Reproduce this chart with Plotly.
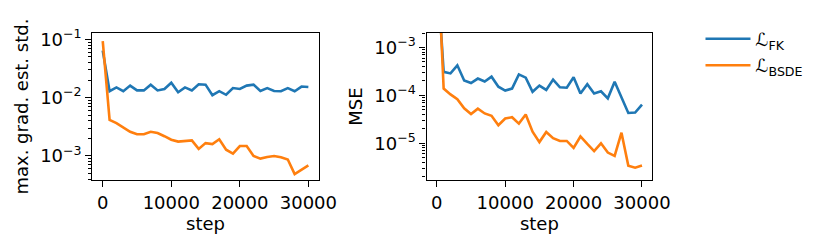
import plotly.graph_objects as go

steps = list(range(0, 31000, 1000))

grad_std_fk = [0.064, 0.0129, 0.015, 0.0129, 0.0161, 0.0133, 0.0133, 0.0167, 0.0133, 0.0141,
               0.018, 0.0124, 0.015, 0.0133, 0.017, 0.0167, 0.011, 0.0129, 0.0112, 0.0146,
               0.0141, 0.0161, 0.0167, 0.013, 0.0146, 0.013, 0.0129, 0.0146, 0.0129, 0.0155, 0.0152]
grad_std_bsde = [0.093, 0.00414, 0.00366, 0.0031, 0.0026, 0.00235, 0.00235, 0.0026, 0.00247, 0.00218,
                 0.0019, 0.00176, 0.0018, 0.00185, 0.00132, 0.00166, 0.0016, 0.00193, 0.00128, 0.0011,
                 0.00148, 0.00148, 0.001, 0.0009, 0.00096, 0.001, 0.00095, 0.00087, 0.00049, 0.00058, 0.00069]

mse_fk = [0.05, 3.1e-4, 2.88e-4, 4.25e-4, 2.05e-4, 1.81e-4, 2.25e-4, 1.95e-4, 2.46e-4, 1.52e-4,
          1.26e-4, 1.39e-4, 2.75e-4, 2.35e-4, 1.19e-4, 1.6e-4, 1.3e-4, 2.14e-4, 1.48e-4, 1.45e-4,
          2.4e-4, 1.1e-4, 1.72e-4, 1.1e-4, 1.22e-4, 8.7e-5, 1.93e-4, 9.0e-5, 4.3e-5, 4.4e-5, 6.4e-5]
mse_bsde = [0.2, 1.39e-4, 1.05e-4, 8.3e-5, 5.4e-5, 4.1e-5, 5.3e-5, 4.2e-5, 3.75e-5, 2.39e-5,
            3.3e-5, 3.5e-5, 2.58e-5, 4.0e-5, 1.75e-5, 1.06e-5, 1.72e-5, 1.28e-5, 1.12e-5, 1.12e-5,
            8.0e-6, 1.39e-5, 9.7e-6, 6.9e-6, 1.0e-5, 6.4e-6, 5.45e-6, 1.67e-5, 3.4e-6, 3.1e-6, 3.45e-6]

series_names = ["ℒ<sub>FK</sub>", "ℒ<sub>BSDE</sub>"]
colors = ["#1f77b4", "#ff7f0e"]

x_ticks = [0, 10000, 20000, 30000]
x_tick_labels = ["0", "10000", "20000", "30000"]
left_y_ticks = [1e-1, 1e-2, 1e-3]
left_y_labels = ["10<sup>−1</sup>", "10<sup>−2</sup>", "10<sup>−3</sup>"]
right_y_ticks = [1e-3, 1e-4, 1e-5]
right_y_labels = ["10<sup>−3</sup>", "10<sup>−4</sup>", "10<sup>−5</sup>"]

minor_vals = [m * 10.0 ** e for e in range(-7, 0) for m in range(2, 10)]

W, H = 831, 247
FS = 18
LW = 2.6
fig = go.Figure()
fig.add_trace(go.Scatter(x=steps, y=grad_std_fk, mode="lines", line=dict(color=colors[0], width=LW),
                         name=series_names[0], xaxis="x", yaxis="y"))
fig.add_trace(go.Scatter(x=steps, y=grad_std_bsde, mode="lines", line=dict(color=colors[1], width=LW),
                         name=series_names[1], xaxis="x", yaxis="y"))
fig.add_trace(go.Scatter(x=steps, y=mse_fk, mode="lines", line=dict(color=colors[0], width=LW),
                         name=series_names[0], showlegend=False, xaxis="x2", yaxis="y2"))
fig.add_trace(go.Scatter(x=steps, y=mse_bsde, mode="lines", line=dict(color=colors[1], width=LW),
                         name=series_names[1], showlegend=False, xaxis="x2", yaxis="y2"))

ydom = [(H - 178.3) / H, (H - 26.7) / H]
common_x = dict(range=[-1500, 31500], tickmode="array", tickvals=x_ticks, ticktext=x_tick_labels,
                ticks="outside", ticklen=6, tickwidth=1.3,
                tickcolor="black", showgrid=False, zeroline=False, showline=True, linecolor="black",
                linewidth=1.4, mirror=True, title=dict(text="step", standoff=4, font=dict(size=FS)),
                tickfont=dict(size=FS, color="black"))

def yax(rng, tv, tt, title, anchor):
    return dict(type="log", range=rng, tickmode="array", tickvals=tv, ticktext=tt, ticks="outside",
                ticklen=6, tickwidth=1.3, tickcolor="black", showgrid=False, zeroline=False, showline=True,
                linecolor="black", linewidth=1.4, mirror=True, domain=ydom, anchor=anchor,
                minor=dict(tickmode="array", tickvals=minor_vals, ticks="outside", ticklen=3.5,
                           tickwidth=1, tickcolor="black", showgrid=False),
                title=dict(text=title, standoff=6, font=dict(size=FS)), tickfont=dict(size=FS, color="black"))

fig.update_layout(
    width=W, height=H,
    margin=dict(l=0, r=0, t=0, b=0),
    paper_bgcolor="white", plot_bgcolor="white",
    font=dict(family="DejaVu Sans", size=FS, color="black"),
    xaxis=dict(domain=[94.5 / W, 325.7 / W], anchor="y", **common_x),
    xaxis2=dict(domain=[436 / W, 666.7 / W], anchor="y2", **common_x),
    yaxis=yax([-3.417, -0.89], left_y_ticks, left_y_labels, "max. grad. est. std.", "x"),
    yaxis2=yax([-5.771, -2.696], right_y_ticks, right_y_labels, "MSE", "x2"),
    legend=dict(x=716 / W, y=(H - 14) / H, xanchor="left", yanchor="top", bgcolor="rgba(0,0,0,0)",
                font=dict(size=FS), tracegroupgap=0, itemwidth=45),
    showlegend=True,
)

fig.write_html("out.html", config={"displayModeBar": False},
               post_script="document.body.style.margin='0';document.body.style.overflow='hidden';")
